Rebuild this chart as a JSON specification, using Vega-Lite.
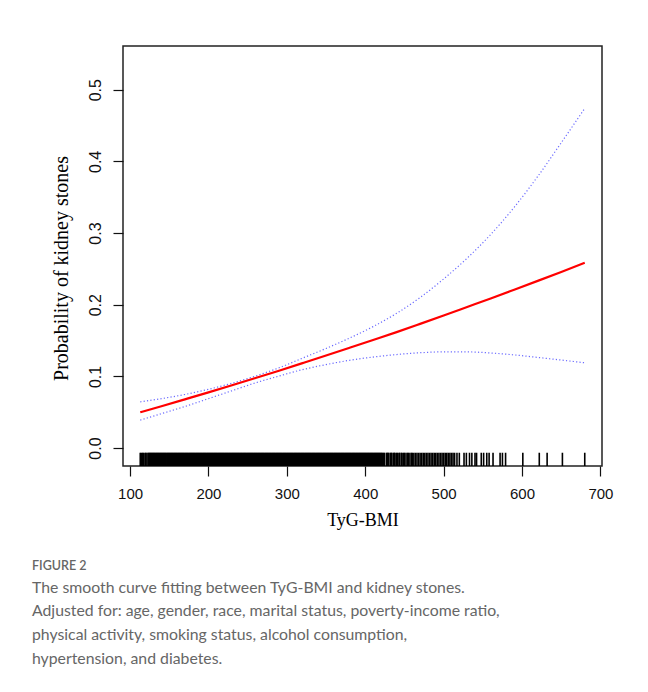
{
  "$schema": "https://vega.github.io/schema/vega-lite/v6.json",
  "autosize": {"type": "none"},
  "padding": {"left": 123, "top": 46, "right": 46, "bottom": 226},
  "width": 479,
  "height": 420,
  "background": "white",
  "config": {
    "view": {"stroke": "#222", "strokeWidth": 1.5},
    "axis": {"grid": false, "domain": false, "tickColor": "#111", "tickSize": 10, "tickWidth": 1.2,
      "labelFont": "Liberation Sans", "labelColor": "#111", "titleFont": "Liberation Serif", "titleColor": "#000", "titleFontWeight": "normal"}
  },
  "title": {
    "text": "FIGURE 2",
    "subtitle": ["The smooth curve fitting between TyG-BMI and kidney stones.", "Adjusted for: age, gender, race, marital status, poverty-income ratio,", "physical activity, smoking status, alcohol consumption,", "hypertension, and diabetes."],
    "orient": "bottom", "anchor": "start", "frame": "group", "dx": -91, "offset": 31,
    "font": "Lato", "fontSize": 12.5, "fontWeight": 600, "color": "#666",
    "subtitleFont": "Lato", "subtitleFontSize": 15.8, "subtitleColor": "#666", "subtitleLineHeight": 23.8, "subtitlePadding": 8
  },
  "datasets": {
    "curve": [
      {"x": 113, "fit": 0.0500, "lo": 0.0390, "hi": 0.0645},
      {"x": 140, "fit": 0.0584, "lo": 0.0480, "hi": 0.0690},
      {"x": 170, "fit": 0.0680, "lo": 0.0580, "hi": 0.0748},
      {"x": 200, "fit": 0.0777, "lo": 0.0690, "hi": 0.0820},
      {"x": 230, "fit": 0.0876, "lo": 0.0800, "hi": 0.0905},
      {"x": 260, "fit": 0.0977, "lo": 0.0910, "hi": 0.1005},
      {"x": 290, "fit": 0.1080, "lo": 0.1005, "hi": 0.1120},
      {"x": 320, "fit": 0.1185, "lo": 0.1095, "hi": 0.1255},
      {"x": 350, "fit": 0.1291, "lo": 0.1165, "hi": 0.1390},
      {"x": 380, "fit": 0.1399, "lo": 0.1225, "hi": 0.1535},
      {"x": 410, "fit": 0.1508, "lo": 0.1270, "hi": 0.1695},
      {"x": 440, "fit": 0.1618, "lo": 0.1305, "hi": 0.1880},
      {"x": 470, "fit": 0.1733, "lo": 0.1330, "hi": 0.2100},
      {"x": 500, "fit": 0.1850, "lo": 0.1343, "hi": 0.2360},
      {"x": 530, "fit": 0.1969, "lo": 0.1342, "hi": 0.2650},
      {"x": 560, "fit": 0.2088, "lo": 0.1327, "hi": 0.2980},
      {"x": 590, "fit": 0.2210, "lo": 0.1300, "hi": 0.3360},
      {"x": 620, "fit": 0.2333, "lo": 0.1265, "hi": 0.3790},
      {"x": 650, "fit": 0.2458, "lo": 0.1228, "hi": 0.4260},
      {"x": 680, "fit": 0.2585, "lo": 0.1190, "hi": 0.4740}
    ],
    "rug": [
      {"v": 113}, {"v": 114.5}, {"v": 116}, {"v": 117}, {"v": 119}, {"v": 120}, {"v": 121.5}, {"v": 123}, {"v": 124},
      {"v": 125}, {"v": 126}, {"v": 127}, {"v": 128}, {"v": 129}, {"v": 130}, {"v": 131}, {"v": 132}, {"v": 133}, {"v": 134},
      {"v": 135}, {"v": 136}, {"v": 137}, {"v": 138}, {"v": 139}, {"v": 140}, {"v": 141}, {"v": 142}, {"v": 143}, {"v": 144},
      {"v": 145}, {"v": 146}, {"v": 147}, {"v": 148}, {"v": 149}, {"v": 150}, {"v": 151}, {"v": 152}, {"v": 153}, {"v": 154},
      {"v": 155}, {"v": 156}, {"v": 157}, {"v": 158}, {"v": 159}, {"v": 160}, {"v": 161}, {"v": 162}, {"v": 163}, {"v": 164},
      {"v": 165}, {"v": 166}, {"v": 167}, {"v": 168}, {"v": 169}, {"v": 170}, {"v": 171}, {"v": 172}, {"v": 173}, {"v": 174},
      {"v": 175}, {"v": 176}, {"v": 177}, {"v": 178}, {"v": 179}, {"v": 180}, {"v": 181}, {"v": 182}, {"v": 183}, {"v": 184},
      {"v": 185}, {"v": 186}, {"v": 187}, {"v": 188}, {"v": 189}, {"v": 190}, {"v": 191}, {"v": 192}, {"v": 193}, {"v": 194},
      {"v": 195}, {"v": 196}, {"v": 197}, {"v": 198}, {"v": 199}, {"v": 200}, {"v": 201}, {"v": 202}, {"v": 203}, {"v": 204},
      {"v": 205}, {"v": 206}, {"v": 207}, {"v": 208}, {"v": 209}, {"v": 210}, {"v": 211}, {"v": 212}, {"v": 213}, {"v": 214},
      {"v": 215}, {"v": 216}, {"v": 217}, {"v": 218}, {"v": 219}, {"v": 220}, {"v": 221}, {"v": 222}, {"v": 223}, {"v": 224},
      {"v": 225}, {"v": 226}, {"v": 227}, {"v": 228}, {"v": 229}, {"v": 230}, {"v": 231}, {"v": 232}, {"v": 233}, {"v": 234},
      {"v": 235}, {"v": 236}, {"v": 237}, {"v": 238}, {"v": 239}, {"v": 240}, {"v": 241}, {"v": 242}, {"v": 243}, {"v": 244},
      {"v": 245}, {"v": 246}, {"v": 247}, {"v": 248}, {"v": 249}, {"v": 250}, {"v": 251}, {"v": 252}, {"v": 253}, {"v": 254},
      {"v": 255}, {"v": 256}, {"v": 257}, {"v": 258}, {"v": 259}, {"v": 260}, {"v": 261}, {"v": 262}, {"v": 263}, {"v": 264},
      {"v": 265}, {"v": 266}, {"v": 267}, {"v": 268}, {"v": 269}, {"v": 270}, {"v": 271}, {"v": 272}, {"v": 273}, {"v": 274},
      {"v": 275}, {"v": 276}, {"v": 277}, {"v": 278}, {"v": 279}, {"v": 280}, {"v": 281}, {"v": 282}, {"v": 283}, {"v": 284},
      {"v": 285}, {"v": 286}, {"v": 287}, {"v": 288}, {"v": 289}, {"v": 290}, {"v": 291}, {"v": 292}, {"v": 293}, {"v": 294},
      {"v": 295}, {"v": 296}, {"v": 297}, {"v": 298}, {"v": 299}, {"v": 300}, {"v": 301}, {"v": 302}, {"v": 303}, {"v": 304},
      {"v": 305}, {"v": 306}, {"v": 307}, {"v": 308}, {"v": 309}, {"v": 310}, {"v": 311}, {"v": 312}, {"v": 313}, {"v": 314},
      {"v": 315}, {"v": 316}, {"v": 317}, {"v": 318}, {"v": 319}, {"v": 320}, {"v": 321}, {"v": 322}, {"v": 323}, {"v": 324},
      {"v": 325}, {"v": 326}, {"v": 327}, {"v": 328}, {"v": 329}, {"v": 330}, {"v": 331}, {"v": 332}, {"v": 333}, {"v": 334},
      {"v": 335}, {"v": 336}, {"v": 337}, {"v": 338}, {"v": 339}, {"v": 340}, {"v": 341}, {"v": 342}, {"v": 343}, {"v": 344},
      {"v": 345}, {"v": 346}, {"v": 347}, {"v": 348}, {"v": 349}, {"v": 350}, {"v": 351}, {"v": 352}, {"v": 353}, {"v": 354},
      {"v": 355}, {"v": 356}, {"v": 357}, {"v": 358}, {"v": 359}, {"v": 360}, {"v": 361}, {"v": 362}, {"v": 363}, {"v": 364},
      {"v": 365}, {"v": 366}, {"v": 367}, {"v": 368}, {"v": 369}, {"v": 370}, {"v": 371}, {"v": 372}, {"v": 373}, {"v": 374},
      {"v": 375}, {"v": 376}, {"v": 377}, {"v": 378}, {"v": 379}, {"v": 380}, {"v": 381}, {"v": 382}, {"v": 383}, {"v": 384},
      {"v": 385}, {"v": 386}, {"v": 387}, {"v": 388}, {"v": 389}, {"v": 390}, {"v": 391}, {"v": 392}, {"v": 393}, {"v": 394},
      {"v": 395}, {"v": 396}, {"v": 397}, {"v": 398}, {"v": 399}, {"v": 400}, {"v": 401}, {"v": 402}, {"v": 403}, {"v": 404},
      {"v": 405}, {"v": 406}, {"v": 407}, {"v": 408}, {"v": 409}, {"v": 410}, {"v": 411}, {"v": 412}, {"v": 413}, {"v": 414},
      {"v": 415}, {"v": 416}, {"v": 417}, {"v": 418}, {"v": 419}, {"v": 420}, {"v": 421}, {"v": 422},
      {"v": 423.5}, {"v": 424.5}, {"v": 427}, {"v": 428}, {"v": 429}, {"v": 430}, {"v": 432}, {"v": 433}, {"v": 434}, {"v": 436},
      {"v": 437}, {"v": 438}, {"v": 440}, {"v": 441}, {"v": 443}, {"v": 444}, {"v": 446}, {"v": 447}, {"v": 449}, {"v": 450},
      {"v": 452}, {"v": 454}, {"v": 455}, {"v": 457}, {"v": 459}, {"v": 460}, {"v": 462}, {"v": 464}, {"v": 466}, {"v": 468},
      {"v": 470}, {"v": 472}, {"v": 474}, {"v": 476}, {"v": 478}, {"v": 480}, {"v": 482}, {"v": 484}, {"v": 486}, {"v": 488},
      {"v": 490}, {"v": 492}, {"v": 494}, {"v": 496}, {"v": 498}, {"v": 500},
      {"v": 502}, {"v": 504}, {"v": 506}, {"v": 508}, {"v": 510}, {"v": 512}, {"v": 514}, {"v": 517}, {"v": 520},
      {"v": 526}, {"v": 529}, {"v": 533}, {"v": 536}, {"v": 540}, {"v": 542}, {"v": 548}, {"v": 551}, {"v": 555}, {"v": 558},
      {"v": 563}, {"v": 572}, {"v": 575}, {"v": 579}, {"v": 601}, {"v": 622}, {"v": 632}, {"v": 651.5}, {"v": 680}
    ]
  },
  "encoding": {
    "x": {"type": "quantitative", "scale": {"domain": [91, 702], "nice": false, "zero": false},
      "axis": {"values": [100, 200, 300, 400, 500, 600, 700], "title": "TyG-BMI", "labelFontSize": 15, "labelPadding": 10, "titleFontSize": 18, "titlePadding": 10}}
  },
  "layer": [
    {
      "data": {"name": "rug"},
      "mark": {"type": "rule", "color": "#000", "strokeWidth": 1.6, "opacity": 1},
      "encoding": {
        "x": {"field": "v", "type": "quantitative"},
        "y": {"datum": -0.0065, "type": "quantitative", "scale": {"domain": [-0.025, 0.561], "nice": false, "zero": false},
          "axis": {"values": [0, 0.1, 0.2, 0.3, 0.4, 0.5], "format": ".1f", "title": "Probability of kidney stones", "labelAngle": -90, "labelAlign": "center", "labelBaseline": "alphabetic", "labelFontSize": 16, "labelPadding": 13, "titleFontSize": 20, "titlePadding": 16, "titleY": 222}},
        "y2": {"datum": -0.025}
      }
    },
    {
      "data": {"name": "curve"},
      "mark": {"type": "line", "color": "#6b6bff", "strokeWidth": 1.2, "strokeDash": [1.2, 2.2], "interpolate": "monotone"},
      "encoding": {"x": {"field": "x", "type": "quantitative"}, "y": {"field": "hi", "type": "quantitative"}}
    },
    {
      "data": {"name": "curve"},
      "mark": {"type": "line", "color": "#6b6bff", "strokeWidth": 1.2, "strokeDash": [1.2, 2.2], "interpolate": "monotone"},
      "encoding": {"x": {"field": "x", "type": "quantitative"}, "y": {"field": "lo", "type": "quantitative"}}
    },
    {
      "data": {"name": "curve"},
      "mark": {"type": "line", "color": "#ff0000", "strokeWidth": 2.2, "interpolate": "monotone"},
      "encoding": {"x": {"field": "x", "type": "quantitative"}, "y": {"field": "fit", "type": "quantitative"}}
    }
  ]
}
